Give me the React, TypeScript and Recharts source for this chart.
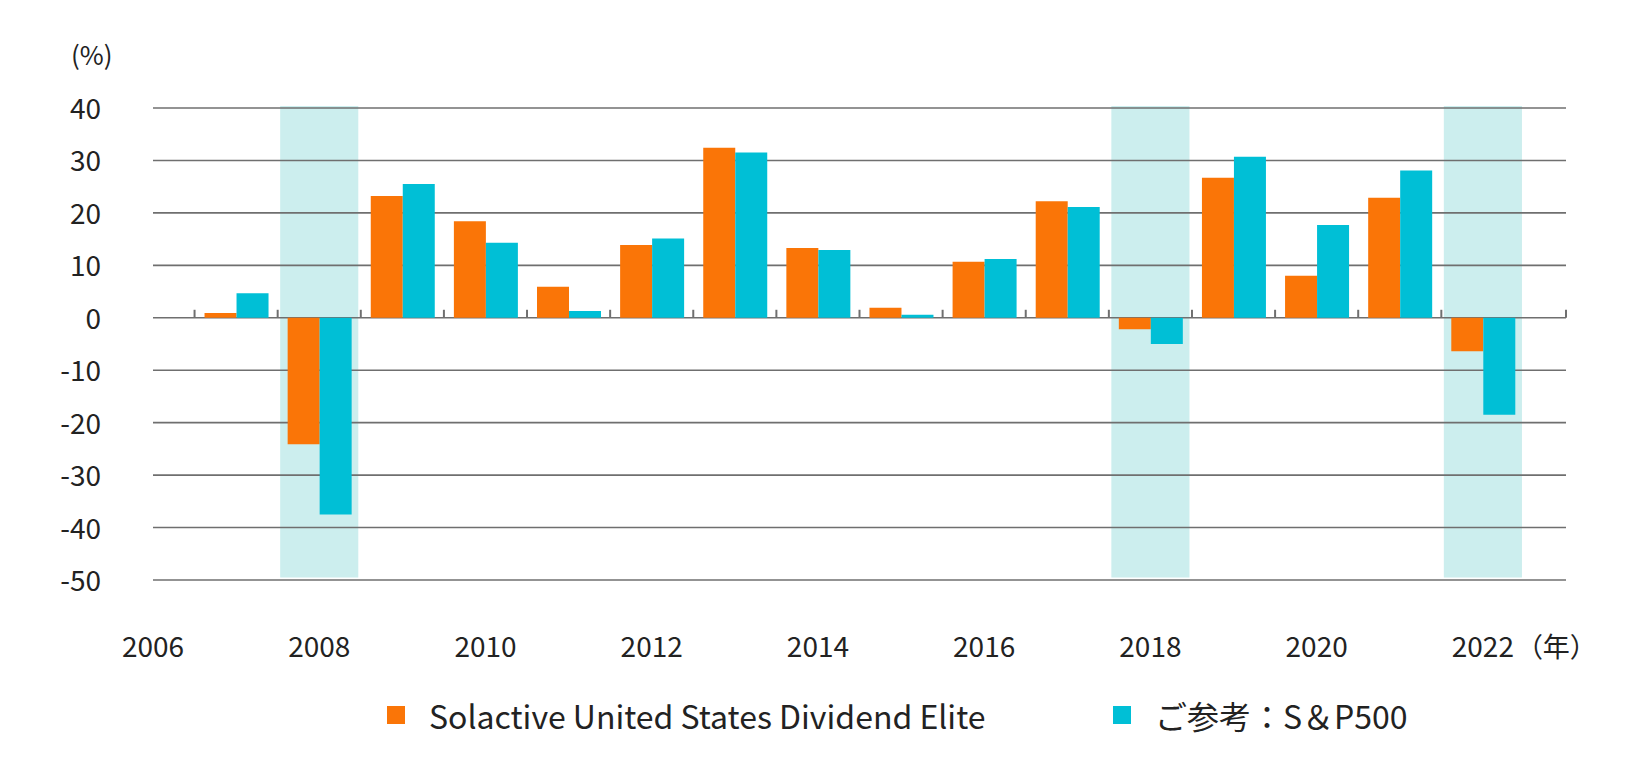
import { BarChart, Bar, XAxis, YAxis, CartesianGrid, ReferenceArea, ReferenceLine } from 'recharts'

// calendar years on the x axis; 2006 and 2023 are empty end slots
const years = [2006, 2007, 2008, 2009, 2010, 2011, 2012, 2013, 2014, 2015, 2016, 2017, 2018, 2019, 2020, 2021, 2022, 2023]
const solactive = [null, 0.9, -24.1, 23.2, 18.4, 5.9, 13.9, 32.4, 13.3, 1.9, 10.7, 22.2, -2.2, 26.7, 8.0, 22.9, -6.4, null]
const sp500 = [null, 4.7, -37.5, 25.5, 14.3, 1.3, 15.1, 31.5, 12.9, 0.6, 11.2, 21.1, -5.0, 30.7, 17.7, 28.1, -18.5, null]

const xTicks = [2006, 2008, 2010, 2012, 2014, 2016, 2018, 2020, 2022]
const yTicks = [-50, -40, -30, -20, -10, 0, 10, 20, 30, 40]
const shadedYears = [2008, 2018, 2022]

const Y_MIN = -50
const Y_MAX = 40
const FONT = '"Noto Sans CJK JP", "Noto Sans", sans-serif'
const ORANGE = '#fa7507'
const CYAN = '#00bfd6'
const GRID = '#6f6f6f'
const TEXT = '#222'

const chartData = years.map((year, i) => ({ year, solactive: solactive[i], sp500: sp500[i] }))

// boundary marks on the zero line, between years, plus one at the right end
const zeroTicks = [...years.slice(0, -2).map(y => y + 0.5), years[years.length - 1]]

const XTick = ({ x, y, payload }: any) => (
  <g>
    <text x={x} y={y} dy={77} textAnchor="middle" fill={TEXT} fontSize={28} fontFamily={FONT}>
      {payload.value}
    </text>
    {payload.value === xTicks[xTicks.length - 1] && (
      <text x={x + 33} y={y} dy={77} textAnchor="start" fill={TEXT} fontSize={27} fontFamily={FONT}>
        （年）
      </text>
    )}
  </g>
)

const YTick = ({ x, y, payload }: any) => (
  <text x={x - 52} y={y} dy={11} textAnchor="end" fill={TEXT} fontSize={28} fontFamily={FONT}>
    {payload.value}
  </text>
)

const ZeroTick = ({ x1, y1, y2 }: any) => {
  const top = Math.min(y1, y2)
  const bottom = Math.max(y1, y2)
  const zeroY = top + ((bottom - top) * Y_MAX) / (Y_MAX - Y_MIN)
  return <line x1={x1} x2={x1} y1={zeroY - 8} y2={zeroY} stroke={GRID} strokeWidth={2} />
}

const legendItems = [
  { label: 'Solactive United States Dividend Elite', color: ORANGE, left: 387 },
  { label: 'ご参考：S＆P500', color: CYAN, left: 1113 },
]

export default function App() {
  return (
    <div style={{ position: 'absolute', left: 0, top: 0, width: 1650, height: 764, background: '#fff', fontFamily: FONT }}>
      <div style={{ position: 'absolute', left: 71, top: 35, fontSize: 26, color: TEXT }}>(%)</div>

      <BarChart
        width={1650}
        height={764}
        data={chartData}
        margin={{ top: 108, right: 84, bottom: 124, left: 93 }}
        barGap={0}
        barCategoryGap="12%"
      >
        {shadedYears.map(y => (
          <ReferenceArea
            key={y}
            x1={y - 0.47}
            x2={y + 0.47}
            y1={-49.5}
            y2={40.4}
            fill="#cceeee"
            fillOpacity={1}
            stroke="none"
            ifOverflow="visible"
            zIndex={-150}
          />
        ))}
        <CartesianGrid vertical={false} stroke={GRID} strokeWidth={1.6} />
        <XAxis
          type="number"
          dataKey="year"
          domain={[years[0], years[years.length - 1]]}
          ticks={xTicks}
          axisLine={false}
          tickLine={false}
          tickSize={0}
          tickMargin={0}
          height={60}
          tick={<XTick />}
          interval={0}
        />
        <YAxis
          domain={[Y_MIN, Y_MAX]}
          ticks={yTicks}
          axisLine={false}
          tickLine={false}
          tickSize={0}
          tickMargin={0}
          width={60}
          tick={<YTick />}
          interval={0}
        />
        <Bar dataKey="solactive" fill={ORANGE} isAnimationActive={false} />
        <Bar dataKey="sp500" fill={CYAN} isAnimationActive={false} />
        {zeroTicks.map(t => (
          <ReferenceLine key={t} x={t} shape={<ZeroTick />} ifOverflow="visible" />
        ))}
      </BarChart>

      {legendItems.map(item => (
        <div
          key={item.label}
          style={{ position: 'absolute', left: item.left, top: 692, display: 'flex', alignItems: 'center', fontSize: 32, color: TEXT, whiteSpace: 'nowrap' }}
        >
          <span style={{ display: 'inline-block', width: 18, height: 18, background: item.color, marginRight: 24 }} />
          <span>{item.label}</span>
        </div>
      ))}
    </div>
  )
}
